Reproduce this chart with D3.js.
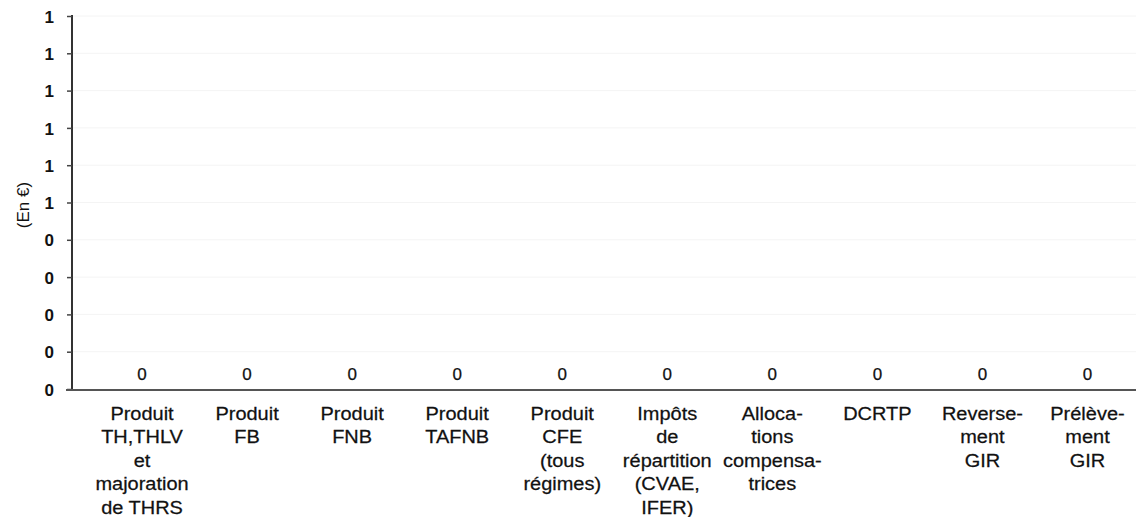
<!DOCTYPE html>
<html><head><meta charset="utf-8">
<script src="https://cdn.jsdelivr.net/npm/d3@7"></script>
<style>body{margin:0;background:#fff}svg{display:block;font-family:"Liberation Sans",Arial,sans-serif}</style>
</head><body><svg id="c" width="1136" height="517"></svg>
<script>
const categories = [
  ["Produit","TH,THLV","et","majoration","de THRS"],
  ["Produit","FB"],
  ["Produit","FNB"],
  ["Produit","TAFNB"],
  ["Produit","CFE","(tous","régimes)"],
  ["Impôts","de","répartition","(CVAE,","IFER)"],
  ["Alloca-","tions","compensa-","trices"],
  ["DCRTP"],
  ["Reverse-","ment","GIR"],
  ["Prélève-","ment","GIR"]
];
const values = [0,0,0,0,0,0,0,0,0,0];
const yTickValues = [0,0.1,0.2,0.3,0.4,0.5,0.6,0.7,0.8,0.9,1];
const yTickLabels = ["0","0","0","0","0","1","1","1","1","1","1"];
const yTitle = "(En €)";

const svg = d3.select("#c");
const ids = categories.map((c,i)=>i);
const x = d3.scalePoint().domain(ids).range([89.5,1140]).padding(0.5);
const barW = x.step()*0.6;
const y = d3.scaleLinear().domain([0,1]).range([389,16]);

// faint gridlines
svg.append("g").selectAll("line").data(yTickValues.slice(1)).join("line")
  .attr("x1",73).attr("x2",1136).attr("y1",d=>y(d)).attr("y2",d=>y(d))
  .attr("stroke","#f4f4f4").attr("stroke-width",1);

// bars (zero height)
svg.append("g").selectAll("rect").data(values).join("rect")
  .attr("x",(d,i)=>x(i)-barW/2).attr("width",barW)
  .attr("y",d=>y(d)).attr("height",d=>y(0)-y(d)).attr("fill","#888");

// y axis
const yAxis = d3.axisLeft(y).tickValues(yTickValues).tickSize(5).tickPadding(13)
  .tickFormat((d,i)=>yTickLabels[i]);
const gy = svg.append("g").attr("transform","translate(72,0)").call(yAxis);
gy.select(".domain").attr("stroke","#333").attr("stroke-width",2).attr("d","M0,15V390");
gy.selectAll(".tick line").attr("stroke","#444").attr("stroke-width",1.5);
gy.selectAll(".tick text").attr("font-size",17).attr("font-family","Liberation Sans, Arial, sans-serif")
  .attr("fill","#111").attr("font-weight","bold").attr("dy","0.36em");

// x axis line
const xAxis = d3.axisBottom(x).tickSize(0).tickFormat("");
const gx = svg.append("g").attr("transform","translate(0,390)").call(xAxis);
gx.select(".domain").attr("stroke","#555").attr("stroke-width",2).attr("d","M66,0H1136");

// category labels
const lab = svg.append("g").selectAll("text").data(categories).join("text")
  .attr("text-anchor","middle").attr("font-size",18.5).attr("fill","#111")
  .attr("stroke","#111").attr("stroke-width",0.25)
  .attr("transform",(d,i)=>`translate(${x(i)},420) scale(1.08,1)`);
lab.selectAll("tspan").data(d=>d).join("tspan")
  .attr("x",0).attr("dy",(d,i)=>i===0?0:23.4).text(d=>d);

// value labels
svg.append("g").selectAll("text").data(values).join("text")
  .attr("text-anchor","middle").attr("font-size",17).attr("fill","#111")
  .attr("stroke","#111").attr("stroke-width",0.25)
  .attr("x",(d,i)=>x(i)).attr("y",d=>y(d)-9).text(d=>d3.format(".0f")(d));

// y title
svg.append("text").attr("transform","translate(29,205) rotate(-90)")
  .attr("text-anchor","middle").attr("font-size",17).attr("fill","#111").text(yTitle);
</script></body></html>
